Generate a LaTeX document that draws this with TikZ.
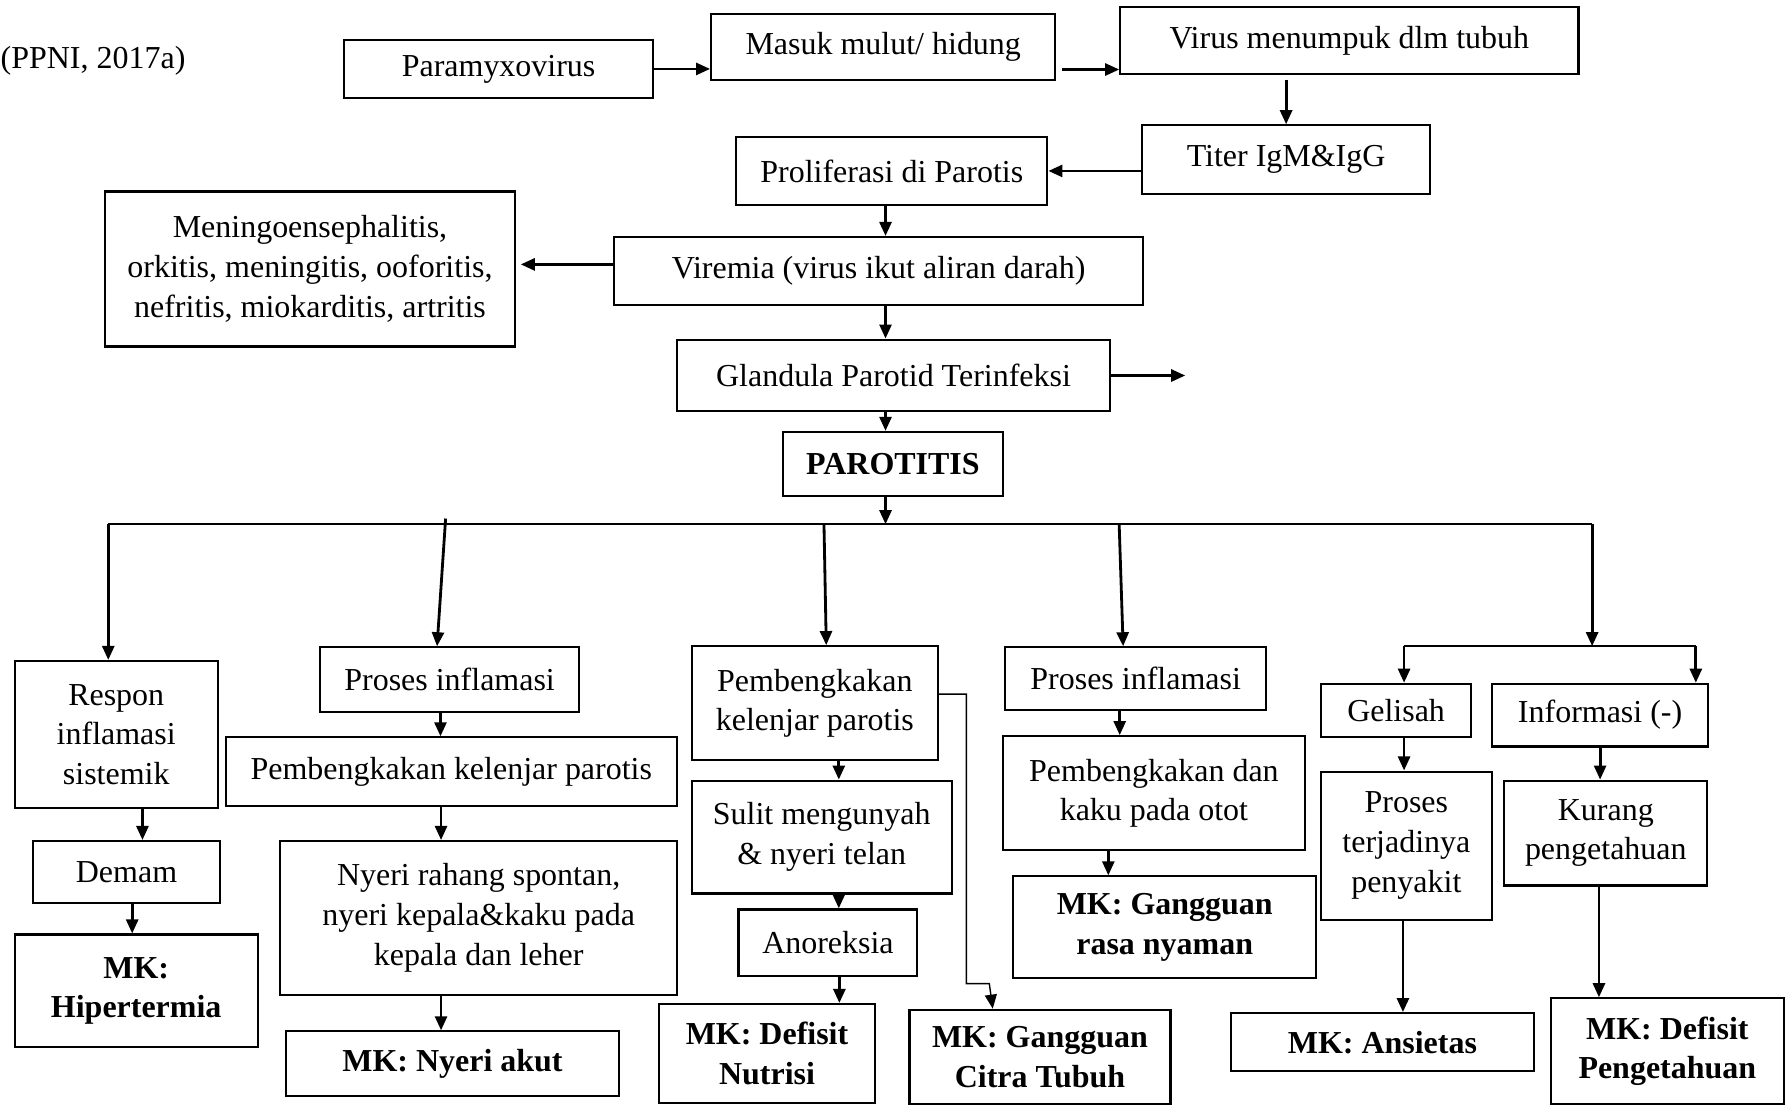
\documentclass[tikz,border=0pt]{standalone}
\usepackage{fontspec}
\setmainfont{Liberation Serif}
\usetikzlibrary{arrows.meta}
\newlength{\pxu}
\setlength{\pxu}{0.011397cm}

\begin{document}
\begin{tikzpicture}[
  x=0.011397cm, y=-0.011397cm,
  box/.style={rectangle, draw, line width=0.6pt, align=center, inner sep=0pt},
  mk/.style={box, font=\fontsize{9.1}{11.3}\selectfont\bfseries},
  >={Triangle[length=4pt,width=3.4pt]},
  font=\fontsize{9.1}{11.3}\selectfont
]
\useasboundingbox (0,0) rectangle (1568,972);

\node[anchor=west, inner sep=0pt] (ppni) at (0,53) {(PPNI, 2017a)};
\node[box, minimum width=271\pxu, minimum height=51\pxu] (para) at (437.5,60.5) {Paramyxovirus};
\node[box, minimum width=302\pxu, minimum height=58\pxu] (masuk) at (775,41) {Masuk mulut/ hidung};
\node[box, minimum width=402\pxu, minimum height=59\pxu] (virus) at (1184,35.5) {Virus menumpuk dlm tubuh};
\node[box, minimum width=253\pxu, minimum height=60\pxu] (titer) at (1128.5,140) {Titer IgM\&IgG};
\node[box, minimum width=273\pxu, minimum height=60\pxu] (prolif) at (782.5,150) {Proliferasi di Parotis};
\node[box, minimum width=464\pxu, minimum height=60\pxu] (viremia) at (771,238) {Viremia (virus ikut aliran darah)};
\node[box, minimum width=360\pxu, minimum height=136\pxu] (komplik) at (272,236) {Meningoensephalitis,\\orkitis, meningitis, ooforitis,\\nefritis, miokarditis, artritis};
\node[box, minimum width=380\pxu, minimum height=63\pxu] (glandula) at (784,329.5) {Glandula Parotid Terinfeksi};
\node[mk, minimum width=193\pxu, minimum height=56\pxu] (parotitis) at (783.5,407) {PAROTITIS};

\node[box, minimum width=178\pxu, minimum height=129\pxu] (respon) at (102,644.5) {Respon\\inflamasi\\sistemik};
\node[box, minimum width=164\pxu, minimum height=54\pxu] (demam) at (111,765) {Demam};
\node[mk, minimum width=213\pxu, minimum height=99\pxu] (hipertermia) at (119.5,869.5) {MK:\\Hipertermia};
\node[box, minimum width=227\pxu, minimum height=57\pxu] (proses1) at (394.5,596.5) {Proses inflamasi};
\node[box, minimum width=396\pxu, minimum height=60\pxu] (pemb1) at (396,677) {Pembengkakan kelenjar parotis};
\node[box, minimum width=348\pxu, minimum height=135\pxu] (nyeri) at (420,805.5) {Nyeri rahang spontan,\\nyeri kepala\&kaku pada\\kepala dan leher};
\node[mk, minimum width=292\pxu, minimum height=57\pxu] (nyeriakut) at (397,933.5) {MK: Nyeri akut};
\node[box, minimum width=216\pxu, minimum height=100\pxu] (pemb2) at (715,617) {Pembengkakan\\kelenjar parotis};
\node[box, minimum width=228\pxu, minimum height=99\pxu] (sulit) at (721,734.5) {Sulit mengunyah\\\& nyeri telan};
\node[box, minimum width=157\pxu, minimum height=58\pxu] (anoreksia) at (726.5,827) {Anoreksia};
\node[mk, minimum width=190\pxu, minimum height=87\pxu] (nutrisi) at (673,924.5) {MK: Defisit\\Nutrisi};
\node[mk, minimum width=229\pxu, minimum height=83\pxu] (citra) at (912.5,927.5) {MK: Gangguan\\Citra Tubuh};
\node[box, minimum width=229\pxu, minimum height=55\pxu] (proses2) at (996.5,595.5) {Proses inflamasi};
\node[box, minimum width=265\pxu, minimum height=100\pxu] (pembk) at (1012.5,696) {Pembengkakan dan\\kaku pada otot};
\node[mk, minimum width=266\pxu, minimum height=89\pxu] (rasanyaman) at (1022,813.5) {MK: Gangguan\\rasa nyaman};
\node[box, minimum width=132\pxu, minimum height=47\pxu] (gelisah) at (1225,623.5) {Gelisah};
\node[box, minimum width=190\pxu, minimum height=55\pxu] (informasi) at (1404,627.5) {Informasi (-)};
\node[box, minimum width=150\pxu, minimum height=130\pxu] (prosest) at (1234,742) {Proses\\terjadinya\\penyakit};
\node[box, minimum width=178\pxu, minimum height=92\pxu] (kurang) at (1409,731) {Kurang\\pengetahuan};
\node[mk, minimum width=266\pxu, minimum height=51\pxu] (ansietas) at (1213,914.5) {MK: Ansietas};
\node[mk, minimum width=204\pxu, minimum height=93\pxu] (defisitp) at (1463,922.5) {MK: Defisit\\Pengetahuan};

\coordinate (spine) at (777,0);
\coordinate (gout) at (1040,331);
\coordinate (busl) at (95,460);
\coordinate (busr) at (1397,460);
\coordinate (bus2) at (391,455);
\coordinate (bus3) at (723,460);
\coordinate (bus4) at (982,460);
\coordinate (splitl) at (1232,567);
\coordinate (splitr) at (1488,567);

\draw[->,thick] (para.east) -- (para.east -| masuk.west);
\draw[->,thick] ([xshift=5\pxu,yshift=-20\pxu]masuk.east) -- ([yshift=-20\pxu]masuk.east -| virus.west);
\draw[->,thick] ([yshift=-4\pxu]virus.south -| titer.north) -- (titer.north);
\draw[->,thick] (prolif.east -| titer.west) -- (prolif.east);
\draw[->,thick] (spine |- prolif.south) -- (spine |- viremia.north);
\draw[->,thick, shorten >=4\pxu] ([yshift=6\pxu]viremia.west) -- ([yshift=6\pxu]viremia.west -| komplik.east);
\draw[->,thick] (spine |- viremia.south) -- (spine |- glandula.north);
\draw[->,thick] (glandula.east) -- (glandula.east -| gout);
\draw[->,thick] (spine |- glandula.south) -- (spine |- parotitis.north);
\draw[->,thick] (spine |- parotitis.south) -- (spine |- busl);

\draw[line width=0.5pt] (busl) -- (busr);
\draw[->,thick] (busl) -- (busl |- respon.north);
\draw[->,thick] (bus2) -- ([xshift=-11\pxu]proses1.north);
\draw[->,thick] (bus3) -- ([xshift=10\pxu]pemb2.north);
\draw[->,thick] (bus4) -- ([xshift=-11\pxu]proses2.north);
\draw[->,thick] (busr) -- (busr |- splitl);
\draw[line width=0.6pt] (splitl) -- (splitr);
\draw[->,thick] (splitl) -- (splitl |- gelisah.north);
\draw[->,thick] (splitr) -- (splitr |- informasi.north);

\draw[->,thick] ([xshift=23\pxu]respon.south) -- ([xshift=23\pxu]respon.south |- demam.north);
\draw[->,thick] ([xshift=5\pxu]demam.south) -- ([xshift=5\pxu]demam.south |- hipertermia.north);
\draw[->,thick] ([xshift=-8\pxu]proses1.south) -- ([xshift=-8\pxu]proses1.south |- pemb1.north);
\draw[->,thick] ([xshift=-9\pxu]pemb1.south) -- ([xshift=-9\pxu]pemb1.south |- nyeri.north);
\draw[->,thick] ([xshift=-33\pxu]nyeri.south) -- ([xshift=-33\pxu]nyeri.south |- nyeriakut.north);
\draw[->,thick] ([xshift=21\pxu]pemb2.south) -- ([xshift=21\pxu]pemb2.south |- sulit.north);
\draw[->,thick] ([xshift=15\pxu]sulit.south) -- ([xshift=15\pxu]sulit.south |- anoreksia.north);
\draw[->,thick] ([xshift=10\pxu]anoreksia.south) -- ([xshift=10\pxu]anoreksia.south |- nutrisi.north);
\draw[->,line width=0.4pt] ([yshift=8\pxu]pemb2.east) -- ++(24,0) |- ([xshift=71\pxu,yshift=22\pxu]citra.north west) -- ([xshift=74\pxu]citra.north west);
\draw[->,thick] ([xshift=-14\pxu]proses2.south) -- ([xshift=-14\pxu]proses2.south |- pembk.north);
\draw[->,thick] ([xshift=-40\pxu]pembk.south) -- ([xshift=-40\pxu]pembk.south |- rasanyaman.north);
\draw[->,thick] ([xshift=7\pxu]gelisah.south) -- ([xshift=7\pxu]gelisah.south |- prosest.north);
\draw[->,thick] ([xshift=-3\pxu]prosest.south) -- ([xshift=-3\pxu]prosest.south |- ansietas.north);
\draw[->,thick] (informasi.south) -- (informasi.south |- kurang.north);
\draw[->,thick] ([xshift=-6\pxu]kurang.south) -- ([xshift=-6\pxu]kurang.south |- defisitp.north);
\end{tikzpicture}
\end{document}
